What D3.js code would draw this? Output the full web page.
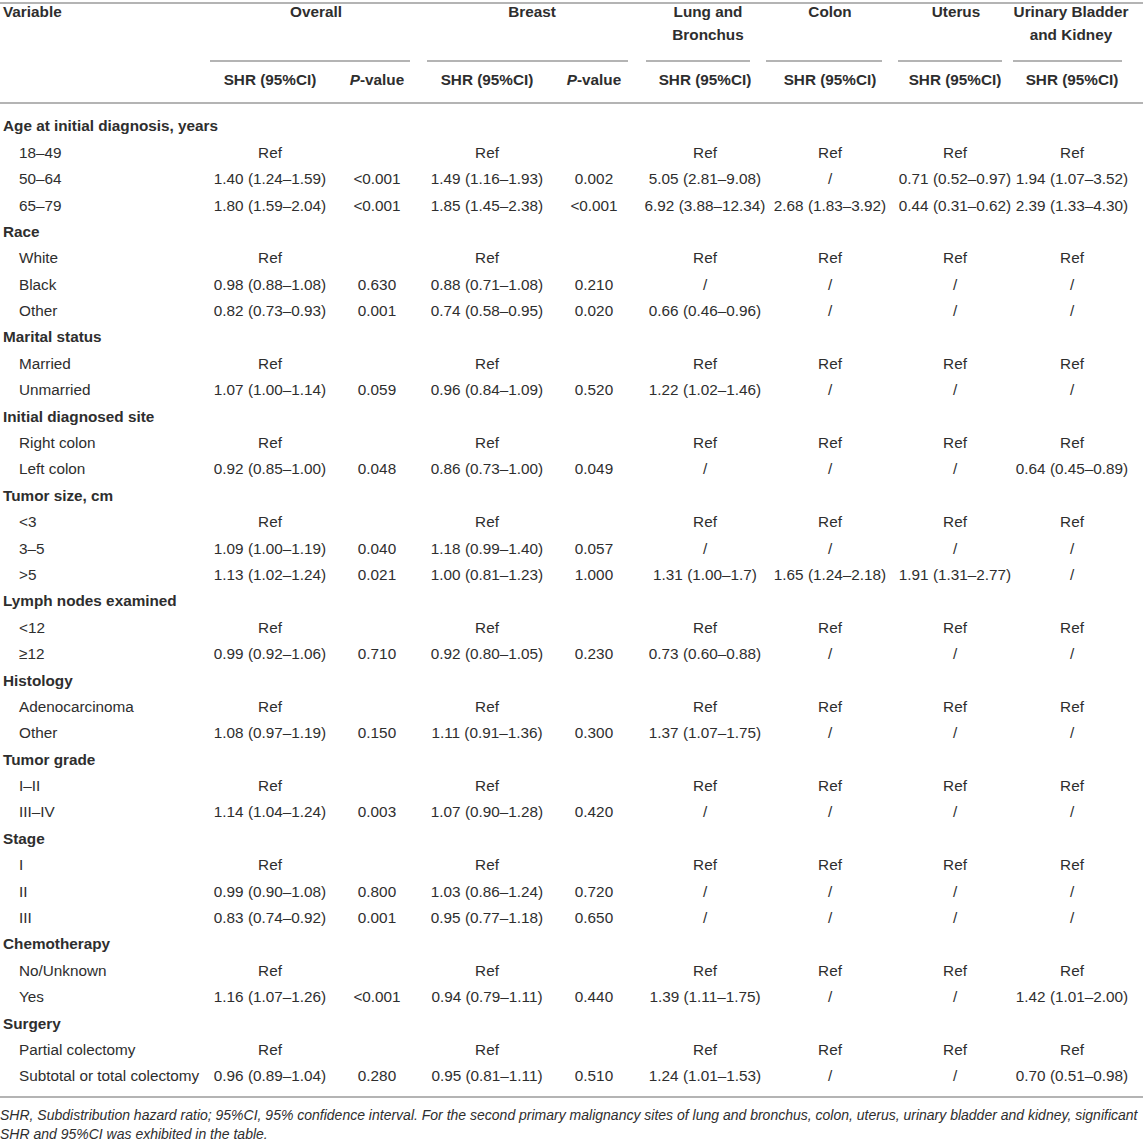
<!DOCTYPE html>
<html><head><meta charset="utf-8">
<script src="https://cdn.jsdelivr.net/npm/d3@7"></script>
<style>
html,body{margin:0;padding:0;background:#fff;}
svg{display:block;font-family:"Liberation Sans",Arial,Helvetica,sans-serif;}
</style></head>
<body>
<svg id="chart" width="1143" height="1142"></svg>
<script>
// ---- data ----
const groupHeaders = ["Overall","Breast","Lung and\nBronchus","Colon","Uterus","Urinary Bladder\nand Kidney"];
const subHeaders = ["SHR (95%CI)","P-value","SHR (95%CI)","P-value","SHR (95%CI)","SHR (95%CI)","SHR (95%CI)","SHR (95%CI)"];
const rowLabels = [
 "Age at initial diagnosis, years","18–49","50–64","65–79",
 "Race","White","Black","Other",
 "Marital status","Married","Unmarried",
 "Initial diagnosed site","Right colon","Left colon",
 "Tumor size, cm","<3","3–5",">5",
 "Lymph nodes examined","<12","≥12",
 "Histology","Adenocarcinoma","Other",
 "Tumor grade","I–II","III–IV",
 "Stage","I","II","III",
 "Chemotherapy","No/Unknown","Yes",
 "Surgery","Partial colectomy","Subtotal or total colectomy"
];
const groupRows = [0,4,8,11,14,18,21,24,27,31,34];
const overallSHR = [null,"Ref","1.40 (1.24–1.59)","1.80 (1.59–2.04)",null,"Ref","0.98 (0.88–1.08)","0.82 (0.73–0.93)",null,"Ref","1.07 (1.00–1.14)",null,"Ref","0.92 (0.85–1.00)",null,"Ref","1.09 (1.00–1.19)","1.13 (1.02–1.24)",null,"Ref","0.99 (0.92–1.06)",null,"Ref","1.08 (0.97–1.19)",null,"Ref","1.14 (1.04–1.24)",null,"Ref","0.99 (0.90–1.08)","0.83 (0.74–0.92)",null,"Ref","1.16 (1.07–1.26)",null,"Ref","0.96 (0.89–1.04)"];
const overallP = [null,"","<0.001","<0.001",null,"","0.630","0.001",null,"","0.059",null,"","0.048",null,"","0.040","0.021",null,"","0.710",null,"","0.150",null,"","0.003",null,"","0.800","0.001",null,"","<0.001",null,"","0.280"];
const breastSHR = [null,"Ref","1.49 (1.16–1.93)","1.85 (1.45–2.38)",null,"Ref","0.88 (0.71–1.08)","0.74 (0.58–0.95)",null,"Ref","0.96 (0.84–1.09)",null,"Ref","0.86 (0.73–1.00)",null,"Ref","1.18 (0.99–1.40)","1.00 (0.81–1.23)",null,"Ref","0.92 (0.80–1.05)",null,"Ref","1.11 (0.91–1.36)",null,"Ref","1.07 (0.90–1.28)",null,"Ref","1.03 (0.86–1.24)","0.95 (0.77–1.18)",null,"Ref","0.94 (0.79–1.11)",null,"Ref","0.95 (0.81–1.11)"];
const breastP = [null,"","0.002","<0.001",null,"","0.210","0.020",null,"","0.520",null,"","0.049",null,"","0.057","1.000",null,"","0.230",null,"","0.300",null,"","0.420",null,"","0.720","0.650",null,"","0.440",null,"","0.510"];
const lungSHR = [null,"Ref","5.05 (2.81–9.08)","6.92 (3.88–12.34)",null,"Ref","/","0.66 (0.46–0.96)",null,"Ref","1.22 (1.02–1.46)",null,"Ref","/",null,"Ref","/","1.31 (1.00–1.7)",null,"Ref","0.73 (0.60–0.88)",null,"Ref","1.37 (1.07–1.75)",null,"Ref","/",null,"Ref","/","/",null,"Ref","1.39 (1.11–1.75)",null,"Ref","1.24 (1.01–1.53)"];
const colonSHR = [null,"Ref","/","2.68 (1.83–3.92)",null,"Ref","/","/",null,"Ref","/",null,"Ref","/",null,"Ref","/","1.65 (1.24–2.18)",null,"Ref","/",null,"Ref","/",null,"Ref","/",null,"Ref","/","/",null,"Ref","/",null,"Ref","/"];
const uterusSHR = [null,"Ref","0.71 (0.52–0.97)","0.44 (0.31–0.62)",null,"Ref","/","/",null,"Ref","/",null,"Ref","/",null,"Ref","/","1.91 (1.31–2.77)",null,"Ref","/",null,"Ref","/",null,"Ref","/",null,"Ref","/","/",null,"Ref","/",null,"Ref","/"];
const urinarySHR = [null,"Ref","1.94 (1.07–3.52)","2.39 (1.33–4.30)",null,"Ref","/","/",null,"Ref","/",null,"Ref","0.64 (0.45–0.89)",null,"Ref","/","/",null,"Ref","/",null,"Ref","/",null,"Ref","/",null,"Ref","/","/",null,"Ref","1.42 (1.01–2.00)",null,"Ref","0.70 (0.51–0.98)"];
const footnote = [
 "SHR, Subdistribution hazard ratio; 95%CI, 95% confidence interval. For the second primary malignancy sites of lung and bronchus, colon, uterus, urinary bladder and kidney, significant",
 "SHR and 95%CI was exhibited in the table."
];

// ---- layout ----
const W = 1143;
const svg = d3.select("#chart");
const ink = "#2e2e2e", rule = "#b4b4b4";
const colKeys = ["oS","oP","bS","bP","lung","colon","uterus","urinary"];
const colCenters = [270,377,487,594,705,830,955,1072];
const x = d3.scaleOrdinal().domain(colKeys).range(colCenters);
const columns = [overallSHR,overallP,breastSHR,breastP,lungSHR,colonSHR,uterusSHR,urinarySHR];
const groupCenters = [316,532,708,830,956,1071];
const groupSpans = [[210,410],[427,628],[646,750],[766,882],[898,1002],[1013,1122]];

const y = d3.scalePoint().domain(d3.range(rowLabels.length)).range([126,1076]);

function hline(y0,x0,x1,w){
  svg.append("line").attr("x1",x0).attr("x2",x1).attr("y1",y0).attr("y2",y0)
    .attr("stroke",rule).attr("stroke-width",w);
}
hline(3,0,W,2);
groupSpans.forEach(s=>hline(61,s[0],s[1],2));
hline(103,0,W,2);
hline(1097,0,W,2);

const fs = 15.3;
// header
svg.append("text").attr("x",3).attr("y",12).attr("dy","0.35em").attr("font-size",fs)
  .attr("font-weight","bold").attr("fill",ink).text("Variable");
groupHeaders.forEach((g,i)=>{
  const lines = g.split("\n");
  lines.forEach((ln,j)=>{
    svg.append("text").attr("x",groupCenters[i]).attr("y",12+j*23).attr("dy","0.35em")
      .attr("text-anchor","middle").attr("font-size",fs).attr("font-weight","bold")
      .attr("fill",ink).text(ln);
  });
});
subHeaders.forEach((h,i)=>{
  const t = svg.append("text").attr("x",x(colKeys[i])).attr("y",80).attr("dy","0.35em")
    .attr("text-anchor","middle").attr("font-size",fs).attr("font-weight","bold").attr("fill",ink);
  if(h==="P-value"){
    t.append("tspan").attr("font-style","italic").text("P");
    t.append("tspan").text("-value");
  } else t.text(h);
});

// body
rowLabels.forEach((lab,i)=>{
  const isG = groupRows.includes(i);
  svg.append("text").attr("x",isG?3:19).attr("y",y(i)).attr("dy","0.35em")
    .attr("font-size",fs).attr("font-weight",isG?"bold":"normal").attr("fill",ink).text(lab);
});
columns.forEach((col,ci)=>{
  svg.append("g").selectAll("text").data(col.map((v,i)=>({v,i})).filter(d=>d.v))
    .join("text").attr("x",x(colKeys[ci])).attr("y",d=>y(d.i)).attr("dy","0.35em")
    .attr("text-anchor","middle").attr("font-size",fs).attr("fill",ink).text(d=>d.v);
});

// footnote
footnote.forEach((f,i)=>{
  svg.append("text").attr("x",0).attr("y",1115+i*19).attr("dy","0.35em")
    .attr("font-size",14).attr("font-style","italic").attr("fill",ink).text(f);
});
</script>
</body></html>
